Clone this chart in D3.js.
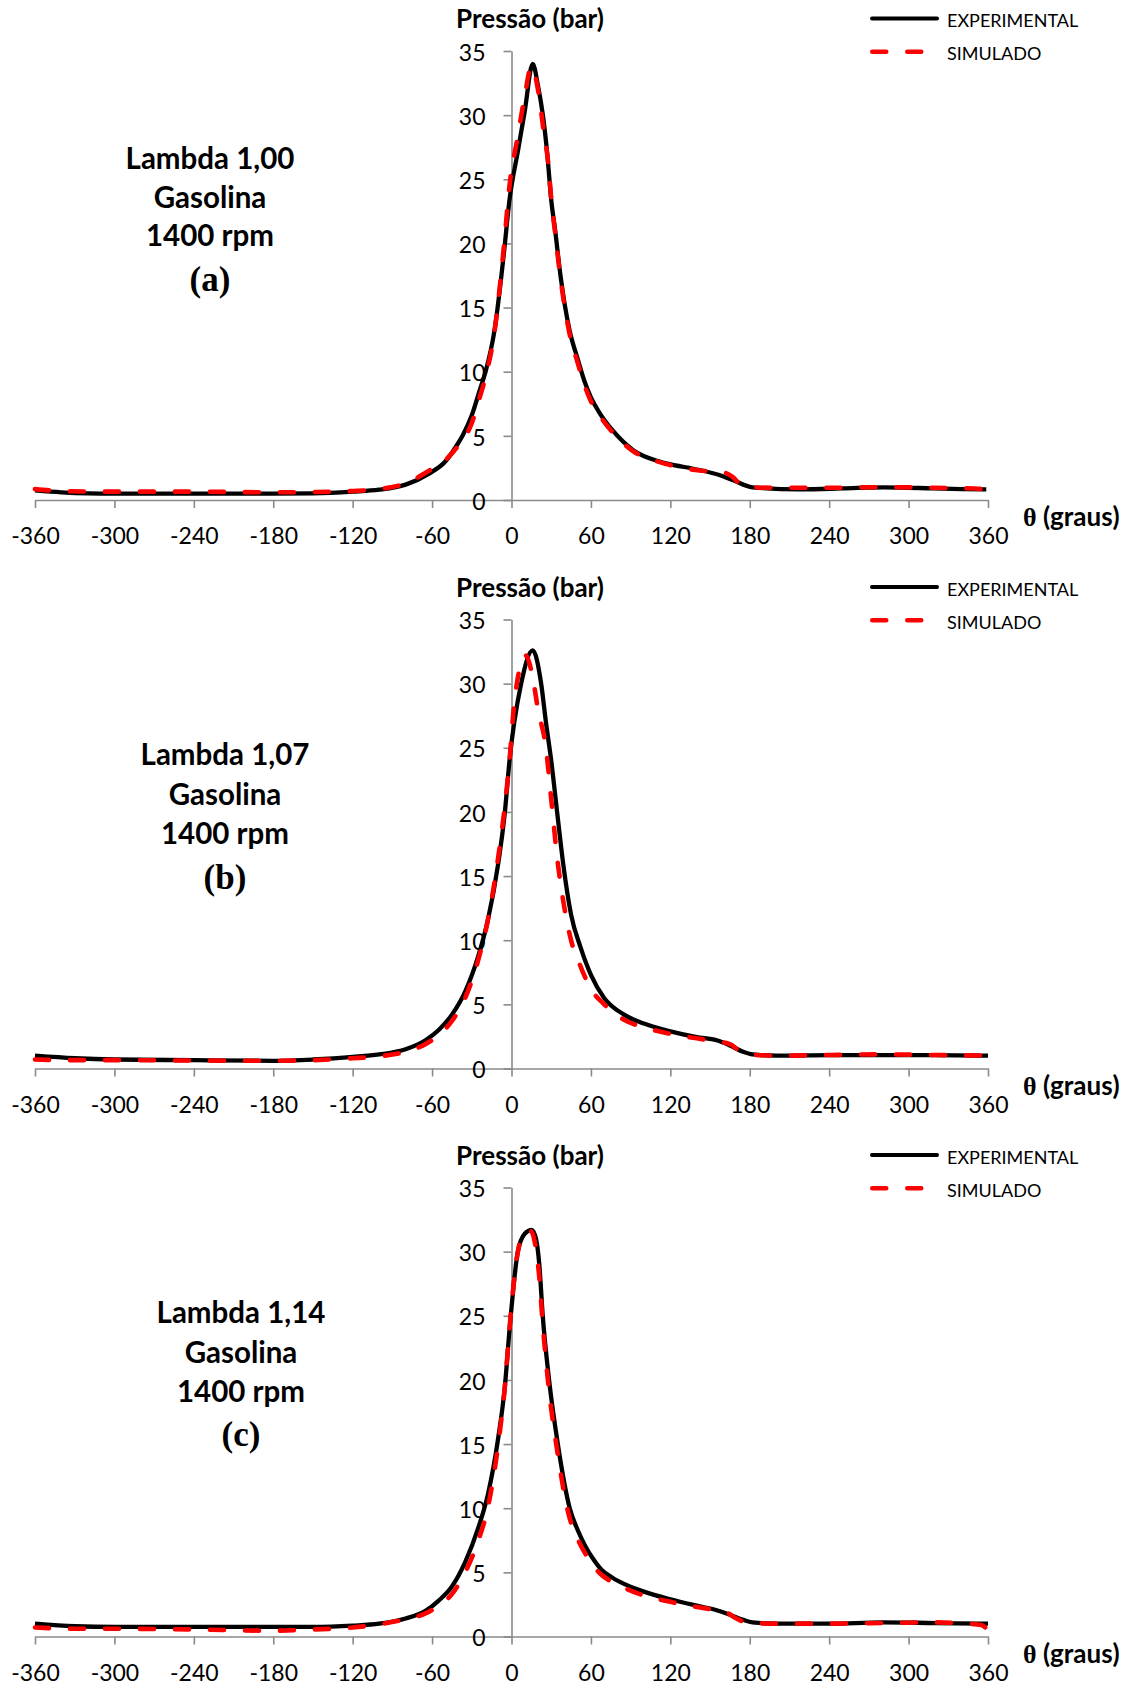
<!DOCTYPE html>
<html><head><meta charset="utf-8">
<script src="https://cdn.jsdelivr.net/npm/d3@7"></script>
<style>body{margin:0;background:#fff} svg{display:block}</style>
</head><body><svg id="c" width="1129" height="1686"></svg>
<script>
// ---------- DATA ----------
const xTicks = [-360,-300,-240,-180,-120,-60,0,60,120,180,240,300,360];
const xTickLabels = ["-360","-300","-240","-180","-120","-60","0","60","120","180","240","300","360"];
const yTicks = [0,5,10,15,20,25,30,35];
const seriesNames = ["EXPERIMENTAL","SIMULADO"];
const yTitle = "Pressão (bar)";
const xTitleSymbol = "θ";
const xTitleText = " (graus)";
const panelA_text = ["Lambda 1,00","Gasolina","1400 rpm","(a)"];
const panelB_text = ["Lambda 1,07","Gasolina","1400 rpm","(b)"];
const panelC_text = ["Lambda 1,14","Gasolina","1400 rpm","(c)"];

// Panel (a)
const expA_theta = [-360,-340,-320,-300,-240,-180,-150,-120,-100,-80,-62,-50,-42,-37,-30,-24,-19.6,-12.8,-6,-1.5,5,10,16,20,23.7,27,30,33,37,43.8,50,55,60,66.5,76.6,91.7,111.8,116.9,142,157,167,182,217.6,250,280.6,318,340,358.7];
const expA_p     = [0.75,0.6,0.52,0.5,0.5,0.5,0.52,0.65,0.8,1.2,2.08,3.0,4.15,5.0,6.6,8.57,10,13.25,19,23.4,27.3,30.3,34,32.3,30,27,23.4,21,17.5,13.25,11,9.3,8.0,6.8,5.4,3.9,3.0,2.86,2.34,1.95,1.56,0.99,0.83,0.9,0.99,0.91,0.85,0.83];
const simA_theta = [-360,-340,-300,-240,-180,-150,-120,-100,-80,-62,-50,-42,-37,-30,-24,-19.6,-13,-6,-1.5,5,10,15,20,24,28,30,33,37,43.8,50,55,60,66.5,77,92,112,117,142,155,162,167,172,178,200,240,280,320,350,360];
const simA_p     = [0.85,0.7,0.65,0.65,0.6,0.62,0.7,0.85,1.3,2.3,3.1,4.0,4.6,6.0,8.0,9.6,13,19.5,24.5,28.5,31.5,33.8,32,29,26,23.5,20.8,17.3,13,10.7,9.0,7.7,6.6,5.2,3.8,2.95,2.8,2.3,2.2,2.1,1.8,1.3,1.0,0.95,0.95,1.0,0.95,0.9,0.78];

// Panel (b)
const expB_theta = [-360,-330,-300,-240,-180,-150,-120,-100,-80,-65,-55,-45,-35,-25,-18,-10,-5,-1.5,7.3,16,22.4,26,30,35,39,45,52,60,70,85,100,120,140,155,165,175,182,200,240,280,320,360];
const expB_p     = [1.0,0.8,0.7,0.65,0.6,0.7,0.9,1.1,1.5,2.2,3.0,4.2,6,8.8,11.5,16,20,24,30,32.6,30,27,24,19.5,16,12,9.5,7.3,5.5,4.2,3.5,2.9,2.45,2.2,1.8,1.3,1.1,1.0,1.05,1.05,1.05,1.0];
const simB_theta = [-360,-330,-300,-240,-180,-150,-120,-100,-80,-65,-55,-45,-35,-25,-18,-10,-5,-1.5,2.2,10.6,16,20,26,30,35,40,45,52,60,70,85,100,120,140,155,165,172,180,200,240,280,320,360];
const simB_p     = [0.7,0.65,0.65,0.62,0.6,0.65,0.8,0.95,1.3,1.9,2.6,3.7,5.5,8.5,11.5,16.5,20.5,24,28.6,32.2,30.5,28,25,21,16,12.5,10,8,6.2,5,3.8,3.2,2.7,2.35,2.1,1.9,1.4,1.1,1.0,1.05,1.1,1.05,1.0];

// Panel (c)
const expC_theta = [-360,-330,-300,-240,-180,-150,-120,-100,-80,-65,-55,-45,-35,-25,-18,-10,-5,-1.5,4.8,10,15.3,18.5,21,23.6,28.4,35,44,50,56,62,68,76,85,100,120,140,155,165,175,182,200,240,280,320,360];
const expC_p     = [1.0,0.8,0.75,0.75,0.75,0.75,0.85,1.0,1.4,2.0,2.8,3.9,5.8,8.5,11,15.5,19.5,23.9,30,31.4,31.7,31,29,25,20,15,10,8.3,7.0,6.0,5.2,4.6,4.1,3.5,2.9,2.4,2.05,1.7,1.3,1.1,1.0,1.0,1.1,1.05,1.0];
const simC_theta = [-360,-330,-300,-240,-180,-150,-120,-100,-80,-65,-55,-45,-35,-25,-18,-10,-5,-1.5,4,10,14.5,18,21,23.5,28,34.5,43,50,55,60,66,75,85,100,120,140,155,162,170,178,200,240,280,320,345,355,360];
const simC_p     = [0.7,0.6,0.6,0.55,0.45,0.55,0.7,0.95,1.35,1.8,2.4,3.3,5,7.5,10,15,19.5,24,29.5,31.5,31.6,30.5,28,24.5,19.5,14.5,9.6,7.6,6.6,5.8,5.0,4.3,3.8,3.2,2.7,2.3,2.05,1.9,1.4,1.1,1.0,1.0,1.05,1.1,1.0,0.9,0.45];

// ---------- LAYOUT ----------
const panels = [
  {oy:0,     text:panelA_text, tx:210, ty:[158,197,235.5,278.5], exp:[expA_theta,expA_p], sim:[simA_theta,simA_p]},
  {oy:568.5, text:panelB_text, tx:225, ty:[186.3,226,264.8,307.8], exp:[expB_theta,expB_p], sim:[simB_theta,simB_p]},
  {oy:1136.5,text:panelC_text, tx:241, ty:[176.3,216,254.8,296.7], exp:[expC_theta,expC_p], sim:[simC_theta,simC_p]}
];
const sans = "Lato, 'Open Sans', sans-serif";
const serif = "'Liberation Serif', 'DejaVu Serif', serif";
const axisColor = "#8a8a8a";
const dash = "14,21";

const svg = d3.select("#c");
svg.append("rect").attr("width",1129).attr("height",1686).attr("fill","#fff");

const x = d3.scaleLinear().domain([-360,360]).range([35,988]);

panels.forEach(p => {
  const g = svg.append("g").attr("transform",`translate(0,${p.oy})`);
  const y = d3.scaleLinear().domain([0,35]).range([500,51]);

  // x axis
  const xa = g.append("g").attr("transform","translate(0,500)")
    .call(d3.axisBottom(x).tickValues(xTicks).tickSize(8).tickSizeOuter(0)
      .tickFormat((d,i)=>xTickLabels[i]));
  xa.select(".domain").attr("stroke",axisColor).attr("stroke-width",1.6);
  xa.selectAll(".tick line").attr("stroke",axisColor).attr("stroke-width",1.6);
  xa.selectAll(".tick text").attr("y",36).attr("dy","0.35em")
    .attr("font-family",sans).attr("font-size",23).attr("fill","#000");

  // y axis
  const ya = g.append("g").attr("transform",`translate(${x(0)},0)`)
    .call(d3.axisLeft(y).tickValues(yTicks).tickSize(8).tickSizeOuter(0).tickPadding(18));
  ya.select(".domain").attr("stroke",axisColor).attr("stroke-width",1.6);
  ya.selectAll(".tick line").attr("stroke",axisColor).attr("stroke-width",1.6);
  ya.selectAll(".tick text").attr("dy","0.4em")
    .attr("font-family",sans).attr("font-size",23).attr("fill","#000");

  // titles
  g.append("text").attr("x",530).attr("y",28).attr("text-anchor","middle")
    .attr("font-family",sans).attr("font-weight","bold").attr("font-size",26).text(yTitle);
  const xt = g.append("text").attr("x",1023).attr("y",526)
    .attr("font-family",sans).attr("font-weight","bold").attr("font-size",26);
  xt.append("tspan").attr("font-family",serif).text(xTitleSymbol);
  xt.append("tspan").text(xTitleText);

  // annotation
  p.text.forEach((t,i) => {
    g.append("text").attr("x",p.tx).attr("y",p.ty[i]).attr("dy","0.36em")
      .attr("text-anchor","middle")
      .attr("font-family", i===3 ? serif : sans).attr("font-weight","bold")
      .attr("font-size", i===3 ? 35 : 29.5).text(t);
  });

  // lines
  const line = d3.line().x(d=>x(d[0])).y(d=>y(d[1])).curve(d3.curveMonotoneX);
  const expData = d3.zip(p.exp[0], p.exp[1]);
  const simData = d3.zip(p.sim[0], p.sim[1]);
  g.append("path").datum(expData).attr("d",line).attr("fill","none")
    .attr("stroke","#000").attr("stroke-width",4.3).attr("stroke-linejoin","round");
  g.append("path").datum(simData).attr("d",line).attr("fill","none")
    .attr("stroke","#ff0000").attr("stroke-width",4.6).attr("stroke-dasharray",dash)
    .attr("stroke-linecap","round").attr("stroke-linejoin","round");

  // legend
  g.append("line").attr("x1",872).attr("x2",937).attr("y1",18.5).attr("y2",18.5)
    .attr("stroke","#000").attr("stroke-width",4).attr("stroke-linecap","round");
  g.append("line").attr("x1",872.25).attr("x2",921.25).attr("y1",51.7).attr("y2",51.7)
    .attr("stroke","#ff0000").attr("stroke-width",4.5).attr("stroke-dasharray",dash)
    .attr("stroke-linecap","round");
  g.append("text").attr("x",947).attr("y",20.7).attr("dy","0.36em")
    .attr("font-family",sans).attr("font-size",18).text(seriesNames[0]);
  g.append("text").attr("x",947).attr("y",54).attr("dy","0.36em")
    .attr("font-family",sans).attr("font-size",18).text(seriesNames[1]);
});
</script>
</body></html>
